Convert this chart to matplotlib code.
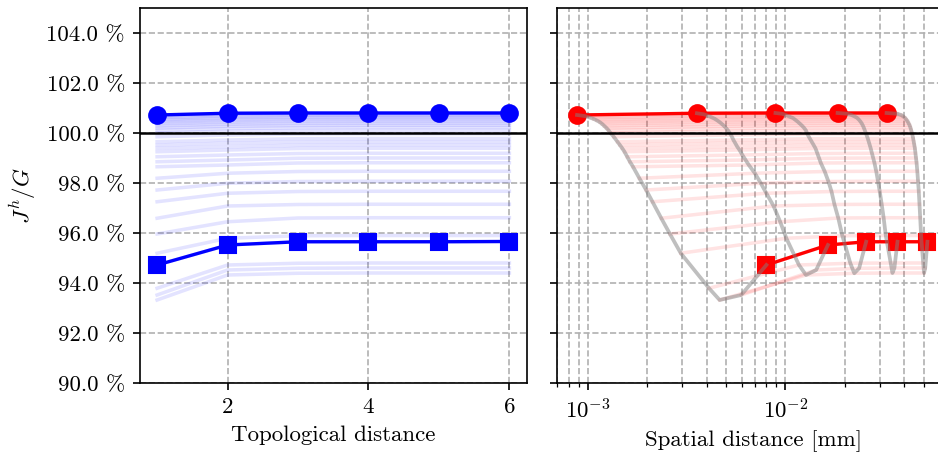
import numpy as np
import matplotlib
matplotlib.use("Agg")
import matplotlib.pyplot as plt
from matplotlib.ticker import FormatStrFormatter

# topological distance (hops)
hops = [1, 2, 3, 4, 5, 6]

# J^h/G in % for each parameter value, one list per hop (first row = circles, last row = squares)
y_hop1 = [100.72, 100.68, 100.62, 100.56, 100.50, 100.43, 100.36, 100.28, 100.20, 100.11, 100.00, 99.85,
          99.65, 99.52, 99.39, 99.25, 99.05, 98.85, 98.65, 98.19, 97.72, 97.25, 96.59, 95.96, 95.19,
          93.79, 93.32, 93.52, 94.72]
y_hop2 = [100.79, 100.75, 100.69, 100.63, 100.57, 100.50, 100.43, 100.35, 100.27, 100.18, 100.07, 99.92,
          99.72, 99.59, 99.45, 99.32, 99.12, 98.92, 98.72, 98.39, 97.99, 97.59, 97.08, 96.45, 95.79,
          94.72, 94.32, 94.52, 95.52]
y_hop3 = [100.80, 100.77, 100.71, 100.65, 100.60, 100.53, 100.46, 100.38, 100.30, 100.21, 100.10, 99.96,
          99.77, 99.64, 99.51, 99.38, 99.18, 98.99, 98.80, 98.46, 98.06, 97.66, 97.14, 96.60, 95.89,
          94.79, 94.39, 94.59, 95.65]
y_hop4 = [100.80, 100.77, 100.72, 100.66, 100.61, 100.54, 100.47, 100.39, 100.31, 100.22, 100.11, 99.97,
          99.78, 99.65, 99.52, 99.39, 99.19, 99.00, 98.81, 98.47, 98.07, 97.67, 97.15, 96.61, 95.90,
          94.80, 94.40, 94.60, 95.65]
y_hop5 = [100.80, 100.77, 100.72, 100.66, 100.61, 100.54, 100.47, 100.39, 100.31, 100.22, 100.11, 99.97,
          99.78, 99.65, 99.52, 99.39, 99.19, 99.00, 98.81, 98.47, 98.07, 97.67, 97.15, 96.61, 95.90,
          94.80, 94.40, 94.60, 95.65]
y_hop6 = [100.80, 100.77, 100.72, 100.66, 100.61, 100.54, 100.47, 100.39, 100.31, 100.22, 100.11, 99.97,
          99.78, 99.65, 99.52, 99.39, 99.19, 99.00, 98.81, 98.47, 98.07, 97.67, 97.15, 96.61, 95.90,
          94.80, 94.40, 94.60, 95.66]

# spatial distance [mm] for hops 1..5
x_hop1 = [8.8e-4, 9.6e-4, 1.02e-3, 1.07e-3, 1.11e-3, 1.15e-3, 1.18e-3, 1.21e-3, 1.24e-3, 1.27e-3, 1.30e-3,
          1.35e-3, 1.41e-3, 1.45e-3, 1.49e-3, 1.53e-3, 1.58e-3, 1.63e-3, 1.69e-3, 1.82e-3, 1.97e-3,
          2.12e-3, 2.35e-3, 2.60e-3, 2.95e-3, 4.1e-3, 4.64e-3, 5.97e-3, 8.0e-3]
x_hop2 = [3.56e-3, 3.85e-3, 4.05e-3, 4.22e-3, 4.38e-3, 4.52e-3, 4.65e-3, 4.78e-3, 4.90e-3, 5.02e-3, 5.15e-3,
          5.30e-3, 5.45e-3, 5.57e-3, 5.70e-3, 5.85e-3, 6.05e-3, 6.28e-3, 6.52e-3, 7.0e-3, 7.5e-3,
          8.0e-3, 8.7e-3, 9.4e-3, 1.01e-2, 1.17e-2, 1.27e-2, 1.43e-2, 1.64e-2]
x_hop3 = [8.9e-3, 9.6e-3, 1.01e-2, 1.05e-2, 1.09e-2, 1.12e-2, 1.15e-2, 1.18e-2, 1.21e-2, 1.24e-2, 1.27e-2,
          1.29e-2, 1.33e-2, 1.36e-2, 1.39e-2, 1.42e-2, 1.45e-2, 1.48e-2, 1.51e-2, 1.58e-2, 1.65e-2,
          1.71e-2, 1.77e-2, 1.85e-2, 1.94e-2, 2.13e-2, 2.23e-2, 2.36e-2, 2.56e-2]
x_hop4 = [0.01836, 0.0205, 0.0216, 0.0224, 0.0230, 0.0235, 0.0239, 0.0243, 0.0246, 0.0249, 0.0252,
          0.0256, 0.0261, 0.0264, 0.0267, 0.0270, 0.0274, 0.0278, 0.0282, 0.0288, 0.0294,
          0.0300, 0.0307, 0.0314, 0.0322, 0.0341, 0.0348, 0.0356, 0.0369]
x_hop5 = [0.0325, 0.0368, 0.0385, 0.0395, 0.0402, 0.0409, 0.0415, 0.0420, 0.0425, 0.0429, 0.0433,
          0.0438, 0.0443, 0.0446, 0.0449, 0.0452, 0.0455, 0.0458, 0.0461, 0.0465, 0.0469,
          0.0473, 0.0477, 0.0481, 0.0486, 0.0498, 0.0503, 0.0510, 0.0523]

yticks = [90, 92, 94, 96, 98, 100, 102, 104]

plt.rcParams.update({
    "font.family": "serif",
    "font.serif": ["cmr10"],
    "mathtext.fontset": "cm",
    "axes.formatter.use_mathtext": True,
    "font.size": 11,
})

Y = np.array([y_hop1, y_hop2, y_hop3, y_hop4, y_hop5, y_hop6]).T
X = np.array([x_hop1, x_hop2, x_hop3, x_hop4, x_hop5]).T

fig = plt.figure(figsize=(938 / 150, 453 / 150), dpi=150)
ax1 = fig.add_axes([139.5 / 938, 70 / 453, 387.5 / 938, 375 / 453])
ax2 = fig.add_axes([557 / 938, 70 / 453, 393 / 938, 375 / 453], sharey=ax1)

# left: topological distance
for row in Y:
    ax1.plot(hops, row, color="blue", alpha=0.11, lw=1.7)
ax1.plot(hops, Y[0], "o-", color="blue", ms=8, lw=1.6)
ax1.plot(hops, Y[-1], "s-", color="blue", ms=8, lw=1.6)
ax1.axhline(100, color="black", lw=1.2)

# right: spatial distance
for xr, yr in zip(X, Y[:, :5]):
    ax2.plot(xr, yr, color="red", alpha=0.11, lw=1.7)
ax2.plot(X[0], Y[0, :5], "o-", color="red", ms=8, lw=1.6)
ax2.plot(X[-1], Y[-1, :5], "s-", color="red", ms=8, lw=1.6)
for k in range(5):
    ax2.plot(X[:, k], Y[:, k], color="gray", alpha=0.5, lw=1.8)
ax2.axhline(100, color="black", lw=1.2)

ax2.set_xscale("log")
ax2.set_xlim(10 ** -3.157, 10 ** -1.167)
ax1.set_xlim(0.75, 6.25)
ax1.set_xticks([2, 4, 6])
ax1.set_ylim(90, 105)
ax1.set_yticks(yticks)
ax1.yaxis.set_major_formatter(FormatStrFormatter("%.1f %%"))
ax2.tick_params(labelleft=False)

ax1.grid(True, ls="--", color="#b0b0b0", lw=0.8)
ax2.grid(True, which="both", ls="--", color="#b0b0b0", lw=0.8)

ax1.set_xlabel("Topological distance")
ax2.set_xlabel("Spatial distance [mm]")
ax1.set_ylabel(r"$J^h/G$")

fig.savefig("out.png", dpi=150)
